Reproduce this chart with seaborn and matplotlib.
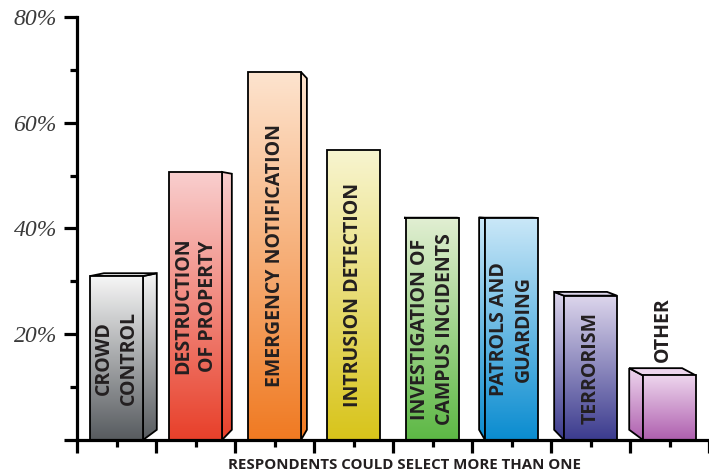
# -*- coding: utf-8 -*-
import numpy as np
import pandas as pd
import seaborn as sns
import matplotlib.pyplot as plt
from matplotlib.colors import LinearSegmentedColormap
from matplotlib.patches import Polygon

# data
categories = ["CROWD\nCONTROL", "DESTRUCTION\nOF PROPERTY", "EMERGENCY NOTIFICATION",
              "INTRUSION DETECTION", "INVESTIGATION OF\nCAMPUS INCIDENTS",
              "PATROLS AND\nGUARDING", "TERRORISM", "OTHER"]
values = [31.0, 50.7, 69.6, 54.8, 42.0, 42.0, 27.3, 12.2]
top_colors = ["#f6f6f6", "#f9cfcf", "#fde4cf", "#f8f5d0", "#e2efd3", "#cbe8f8", "#ddd6ec", "#eed6ee"]
bottom_colors = ["#575b5f", "#e8402a", "#f07a22", "#d8c41a", "#5db845", "#0a8cd0", "#3b3b8e", "#ae5fae"]
ytick_values = [0, 20, 40, 60, 80]
ytick_labels = ["", "20%", "40%", "60%", "80%"]
xlabel = "RESPONDENTS COULD SELECT MORE THAN ONE"

sns.set_style("white")
fig = plt.figure(figsize=(7.09, 4.72), dpi=100)
ax = fig.add_axes([77 / 709, 32 / 472, 632 / 709, 423 / 472])

df = pd.DataFrame({"cat": categories, "val": values})
sns.barplot(data=df, x="cat", y="val", ax=ax, width=0.67, color="white",
            edgecolor="black", linewidth=1.3, zorder=3)

# pseudo 3D: side depth grows away from the middle, perspective toward a horizon
vp, k = 3.5, 0.05
horizon, c = 43.0, 0.045
grad = np.linspace(0, 1, 256).reshape(-1, 1)
label_font = ["Open Sans", "DejaVu Sans"]


def back(v):
    return v + c * (horizon - v)


def fill_gradient(patch, x0, x1, y1, cmap, z):
    im = ax.imshow(grad, cmap=cmap, extent=[x0, x1, 0, y1], origin="lower",
                   aspect="auto", zorder=z, interpolation="bilinear")
    im.set_clip_path(patch)


for i, p in enumerate(ax.patches[:len(values)]):
    x, w, v = p.get_x(), p.get_width(), p.get_height()
    cmap = LinearSegmentedColormap.from_list("g%d" % i, [bottom_colors[i], top_colors[i]])
    d = k * (vp - i)
    xf = x + w if d > 0 else x
    hi = max(v, back(v))
    if abs(d) > 0.04:
        side = Polygon([(xf, 0), (xf, v), (xf + d, back(v)), (xf + d, back(0))],
                       closed=True, facecolor="none", edgecolor="black", linewidth=1.3, zorder=2.2)
        ax.add_patch(side)
        fill_gradient(side, min(xf, xf + d), max(xf, xf + d), hi, cmap, 2.1)
    if back(v) > v:
        top = Polygon([(x, v), (x + w, v), (x + w + d, back(v)), (x + d, back(v))],
                      closed=True, facecolor=top_colors[i], edgecolor="black", linewidth=1.3, zorder=2.3)
        ax.add_patch(top)
    p.set_facecolor("none")
    fill_gradient(p, x, x + w, v, cmap, 2.5)

    # labels
    if v > 20:
        ax.text(x + w / 2, v / 2, categories[i], rotation=90, ha="center", va="center",
                multialignment="center", fontsize=14, fontweight="bold",
                family=label_font, color="#231f20", zorder=5, linespacing=1.35)
    else:
        ax.text(x + w / 2 + d / 2, hi + 1.2, categories[i], rotation=90, ha="center", va="bottom",
                fontsize=14, fontweight="bold", family=label_font,
                color="#231f20", zorder=5)

# axes
ax.set_xlim(-0.5, len(values) - 0.5)
ax.set_ylim(0, 80)
ax.set_xticks(np.arange(-0.5, len(values), 1), labels=[""] * (len(values) + 1))
ax.set_xticks(np.arange(len(values)), minor=True)
ax.set_yticks(ytick_values, labels=ytick_labels)
ax.set_yticks([10, 30, 50, 70], minor=True)
ax.set_xlabel("")
ax.set_ylabel("")
for s in ["top", "right"]:
    ax.spines[s].set_visible(False)
for s in ["left", "bottom"]:
    ax.spines[s].set_linewidth(2.3)
    ax.spines[s].set_color("black")
ax.tick_params(axis="both", which="both", left=True, bottom=True, direction="out", color="black")
ax.tick_params(axis="both", which="major", length=9.5, width=2.3)
ax.tick_params(axis="both", which="minor", length=5, width=2.3)
ax.tick_params(axis="y", labelsize=17, pad=5, labelcolor="#3a3a3a")
for t in ax.get_yticklabels():
    t.set_family(["Liberation Serif", "DejaVu Serif"])
    t.set_style("italic")
ax.patch.set_alpha(0)

fig.text(405 / 709, 1 - 465 / 472, xlabel, ha="center", va="center", fontsize=10.8,
         fontweight="bold", family=label_font, color="#231f20")

fig.savefig("out.png", dpi=100)
